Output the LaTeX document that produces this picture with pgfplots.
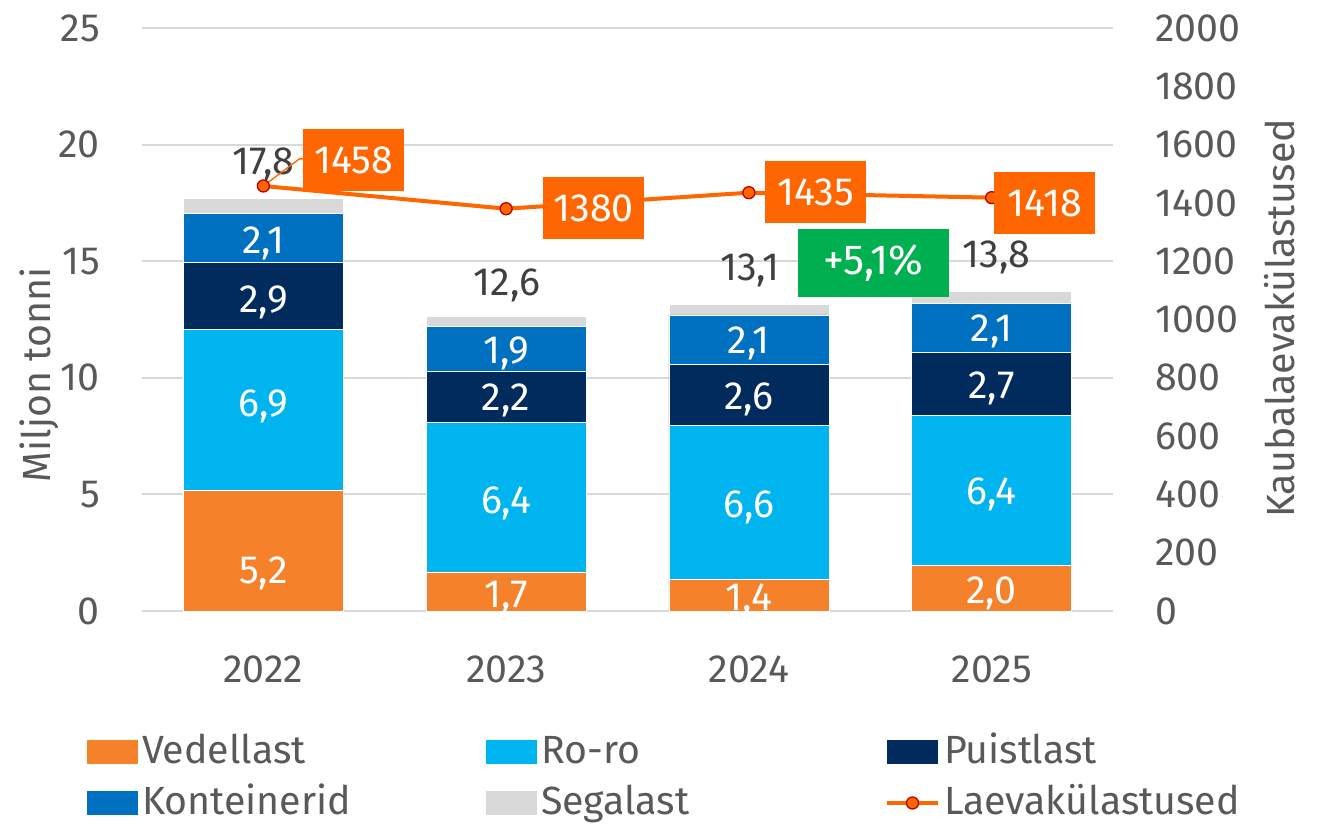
\documentclass[border=0pt]{standalone}
\usepackage{pgfplots}
\pgfplotsset{compat=1.18}
\usepackage{pgfplotstable}
\usepackage{fontspec}
\setmainfont{Fira Sans}
\definecolor{cVed}{HTML}{F5822A}
\definecolor{cRoro}{HTML}{00B4F0}
\definecolor{cPuist}{HTML}{002B5C}
\definecolor{cKont}{HTML}{0070C0}
\definecolor{cSeg}{HTML}{D9D9D9}
\definecolor{cLine}{HTML}{FF6600}
\definecolor{cEdge}{HTML}{C00000}
\definecolor{cGreen}{HTML}{00B050}
\definecolor{tickgray}{HTML}{595959}
\definecolor{totgray}{HTML}{404040}
\definecolor{gridgray}{HTML}{D9D9D9}
\newcommand{\cf}{\fontsize{29.5pt}{34pt}\selectfont}
\newcommand{\cfb}{\fontsize{31.5pt}{36pt}\selectfont}

\pgfplotstableread{
x ved roro puist kont seg
0 5.16 6.90 2.90 2.10 0.65
1 1.68 6.40 2.20 1.92 0.43
2 1.37 6.60 2.60 2.13 0.45
3 1.97 6.43 2.70 2.10 0.52
}\bars

\pgfplotstableread{
x y l
0 1.20 5,2
0 8.32 6,9
0 12.82 2,9
0 15.35 2,1
1 0.17 1,7
1 4.20 6,4
1 8.58 2,2
1 10.63 1,9
2 0.04 1,4
2 4.03 6,6
2 8.62 2,6
2 11.06 2,1
3 0.34 2,0
3 4.55 6,4
3 9.13 2,7
3 11.54 2,1
}\barlabels

\pgfplotstableread{
x y l
0 18.70 17,8
1.004 13.55 12,6
2.004 14.19 13,1
3.02 14.75 13,8
}\totals

\pgfplotstableread{
x y
0 1458
1 1380
2 1435
3 1418
}\ships

\pgfplotstableread{
x y l
0.372 1547 1458
1.360 1381 1380
2.276 1436 1435
3.218 1400 1418
}\shiplabels

\pgfplotsset{
  common/.style={
    at={(0,0)}, anchor=south west,
    scale only axis, width=728.25pt, height=437.25pt,
    xmin=-0.5, xmax=3.5,
  },
}

\begin{document}
\begin{tikzpicture}
% ---------- bars ----------
\begin{axis}[
  common,
  ymin=0, ymax=25,
  ybar stacked, bar width=0.66,
  xtick={0,1,2,3}, xticklabels={2022,2023,2024,2025},
  ytick={0,5,...,25},
  ymajorgrids, grid style={draw=gridgray, line width=1.5pt},
  axis line style={draw=none}, major tick length=0pt, tick style={draw=none},
  ticklabel style={font=\cf, text=tickgray},
  xticklabel style={anchor=base, yshift=-53.25pt},
  yticklabel style={anchor=east, inner sep=0pt, xshift=-31.5pt},
  /pgf/number format/assume math mode=true,
  every axis y label/.style={at={(axis description cs:-0.0947,0.405)}, rotate=90, anchor=base},
  ylabel={Miljon tonni}, ylabel style={font=\cf, text=tickgray},
  legend columns=3,
  legend cell align=left,
  legend style={at={(axis description cs:-0.05664,-0.2075)}, anchor=north west,
    draw=none, fill=none, inner sep=0pt, outer sep=0pt, row sep=8.25pt,
    nodes={text width=258pt, align=left, text height=24pt, text depth=6pt, inner sep=0pt,
      font=\cf, text=tickgray},
    /tikz/every odd column/.append style={column sep=3pt}},
  area legend,
  legend image code/.code={\fill[#1, draw=none] (0pt,-9pt) rectangle (38.25pt,9pt);},
]
\addplot[fill=cVed, draw=white, line width=0.4pt] table[x=x,y=ved]{\bars};
\addplot[fill=cRoro, draw=white, line width=0.4pt] table[x=x,y=roro]{\bars};
\addplot[fill=cPuist, draw=white, line width=0.4pt] table[x=x,y=puist]{\bars};
\addplot[fill=cKont, draw=white, line width=0.4pt] table[x=x,y=kont]{\bars};
\addplot[fill=cSeg, draw=white, line width=0.4pt] table[x=x,y=seg]{\bars};
\addlegendentry{Vedellast}
\addlegendentry{Ro-ro}
\addlegendentry{Puistlast}
\addlegendentry{Konteinerid}
\addlegendentry{Segalast}
\addlegendimage{legend image code/.code={
  \draw[cLine, line width=3pt] (0pt,0pt) -- (38.25pt,0pt);
  \draw[fill=cLine, draw=cEdge, line width=1pt] (19.125pt,0pt) circle (4.5pt);}}
\addlegendentry{Laevakülastused}
\end{axis}

% ---------- labels on left scale ----------
\begin{axis}[
  common, ymin=0, ymax=25, hide axis, clip=false,
]
\addplot[draw=none, mark=none, nodes near coords, point meta=explicit symbolic,
  every node near coord/.style={anchor=base, inner sep=0pt, font=\cf, text=white}]
  table[x=x,y=y,meta=l]{\barlabels};
\addplot[draw=none, mark=none, nodes near coords, point meta=explicit symbolic,
  every node near coord/.style={anchor=base, inner sep=0pt, font=\cf, text=totgray}]
  table[x=x,y=y,meta=l]{\totals};
\addplot[draw=none, mark=none, nodes near coords={+5,1\%},
  every node near coord/.style={anchor=center, inner sep=0pt, fill=cGreen, text=white,
    minimum width=113.25pt, minimum height=51pt, font=\cfb}]
  coordinates {(2.512,14.92)};
\end{axis}

% ---------- line on right scale ----------
\begin{axis}[
  common,
  ymin=0, ymax=2000,
  axis y line*=right, axis x line=none,
  ytick={0,200,...,2000},
  axis line style={draw=none}, major tick length=0pt, tick style={draw=none},
  yticklabel style={anchor=west, inner sep=0pt, xshift=31.5pt, font=\cf, text=tickgray},
  /pgf/number format/1000 sep={},
  /pgf/number format/assume math mode=true,
  every axis y label/.style={at={(axis description cs:1.1874,0.502)}, rotate=90, anchor=base},
  ylabel={Kaubalaevakülastused}, ylabel style={font=\cf, text=tickgray},
  clip=false,
]
\addplot[cLine, line width=3pt, mark=*, mark size=4.5pt,
  mark options={fill=cLine, draw=cEdge, line width=1pt}]
  table[x=x,y=y]{\ships};
\draw[cLine, line width=1pt] (axis cs:0,1458) -- (axis cs:0.148,1551) -- (axis cs:0.17,1551);
\addplot[draw=none, mark=none, nodes near coords, point meta=explicit symbolic,
  every node near coord/.style={anchor=center, inner sep=0pt, fill=cLine, text=white,
    minimum width=75.75pt, minimum height=46.5pt, font=\cf}]
  table[x=x,y=y,meta=l]{\shiplabels};
\end{axis}

\pgfresetboundingbox
\useasboundingbox (-106.5pt,-159.75pt) rectangle (888.75pt,458.25pt);
\end{tikzpicture}
\end{document}
